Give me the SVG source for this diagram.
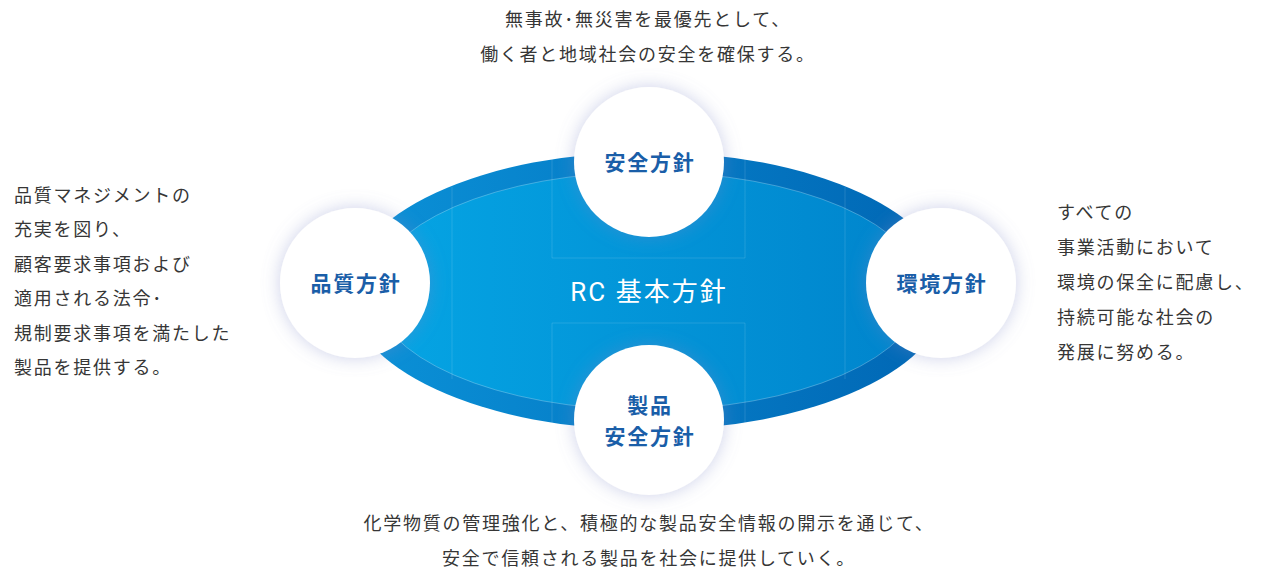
<svg xmlns="http://www.w3.org/2000/svg" width="1287" height="574" viewBox="0 0 1287 574">
<style>
  .desc { font-family: "Noto Sans CJK JP", "Noto Sans", sans-serif; font-size: 18px; fill: #363636; letter-spacing: 1.75px; }
  .mid { text-anchor: middle; }
  .label { font-family: "Noto Sans CJK JP", "Noto Sans", sans-serif; font-size: 21px; font-weight: bold; fill: #1a5ea8; text-anchor: middle; letter-spacing: 1.8px; }
  .circle { fill: #ffffff; filter: url(#glow); }
  .guide { fill: none; stroke: #ffffff; stroke-opacity: 0.13; stroke-width: 1; }
</style>
<defs>
  <linearGradient id="outerGrad" x1="0" y1="0" x2="1" y2="0">
    <stop offset="0" stop-color="#0b92d8"/>
    <stop offset="1" stop-color="#0066b4"/>
  </linearGradient>
  <linearGradient id="innerGrad" x1="0" y1="0" x2="1" y2="0">
    <stop offset="0" stop-color="#05a5e4"/>
    <stop offset="1" stop-color="#0084cc"/>
  </linearGradient>
  <filter id="glow" x="-40%" y="-40%" width="180%" height="180%">
    <feDropShadow dx="0" dy="0" stdDeviation="9" flood-color="#7c86c4" flood-opacity="0.38"/>
  </filter>
</defs>
<rect width="1287" height="574" fill="#ffffff"/>

<g id="center">
  <ellipse cx="648" cy="291" rx="300" ry="139" fill="url(#outerGrad)"/>
  <ellipse cx="648" cy="291" rx="274" ry="119" fill="url(#innerGrad)" stroke="#ffffff" stroke-opacity="0.25" stroke-width="1"/>
  <path class="guide" d="M452 187 V379 M845 187 V379 M552 152 V258 H745 V152 M552 430 V323 H745 V430"/>
  <text x="649" y="301" font-family="Roboto, 'Noto Sans CJK JP', sans-serif" font-size="26" fill="#ffffff" text-anchor="middle" letter-spacing="2">RC 基本方針</text>
</g>

<g id="safety">
  <circle class="circle" cx="649" cy="162" r="75"/>
  <text class="label" x="650" y="170">安全方針</text>
</g>
<g id="quality">
  <circle class="circle" cx="355" cy="283" r="75"/>
  <text class="label" x="356" y="291">品質方針</text>
</g>
<g id="environment">
  <circle class="circle" cx="941" cy="283" r="75"/>
  <text class="label" x="942" y="291">環境方針</text>
</g>
<g id="product">
  <circle class="circle" cx="649" cy="420" r="75"/>
  <text class="label" x="650" y="413">製品</text>
  <text class="label" x="650" y="444">安全方針</text>
</g>

<g id="text-top">
  <text class="desc mid" x="648" y="26">無事故･無災害を最優先として、</text>
  <text class="desc mid" x="648" y="61">働く者と地域社会の安全を確保する。</text>
</g>
<g id="text-left">
  <text class="desc" x="14" y="202">品質マネジメントの</text>
  <text class="desc" x="14" y="236">充実を図り、</text>
  <text class="desc" x="14" y="271">顧客要求事項および</text>
  <text class="desc" x="14" y="305">適用される法令･</text>
  <text class="desc" x="14" y="340">規制要求事項を満たした</text>
  <text class="desc" x="14" y="374">製品を提供する。</text>
</g>
<g id="text-right">
  <text class="desc" x="1057" y="219">すべての</text>
  <text class="desc" x="1057" y="254">事業活動において</text>
  <text class="desc" x="1057" y="289">環境の保全に配慮し、</text>
  <text class="desc" x="1057" y="324">持続可能な社会の</text>
  <text class="desc" x="1057" y="359">発展に努める。</text>
</g>
<g id="text-bottom">
  <text class="desc mid" x="649" y="530">化学物質の管理強化と、積極的な製品安全情報の開示を通じて、</text>
  <text class="desc mid" x="649" y="565">安全で信頼される製品を社会に提供していく。</text>
</g>
</svg>
